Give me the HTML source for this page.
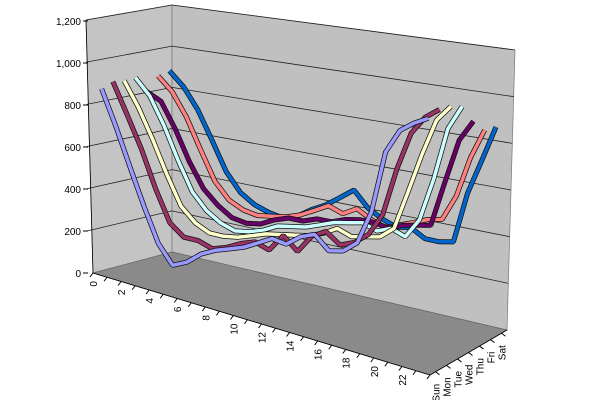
<!DOCTYPE html>
<html><head><meta charset="utf-8"><style>
html,body{margin:0;padding:0;background:#fff;width:600px;height:400px;overflow:hidden}
svg text{font-family:"Liberation Sans",Arial,sans-serif;font-size:10px;fill:#000}
</style></head><body>
<svg id="s" width="600" height="400" xmlns="http://www.w3.org/2000/svg">
<polygon points="86,20 172,5 172,252 93,273" fill="#c4c4c4" stroke="#777" stroke-width="0.7"/>
<polygon points="172,5 515,50 507,330 172,252" fill="#c0c0c0" stroke="#777" stroke-width="0.7"/>
<polygon points="93,273 172,252 507,330 430,375" fill="#8a8a8a" stroke="#666" stroke-width="0.7"/>
<g id="g"></g>
</svg>
<script>
var g=document.getElementById('g'),h='';
function L(x1,y1,x2,y2,c,w){h+='<line x1="'+x1+'" y1="'+y1+'" x2="'+x2+'" y2="'+y2+'" stroke="'+(c||'#000')+'" stroke-width="'+(w||1)+'"/>';}
for(var k=1;k<=6;k++){var f=k/6;
 var ly=273+(20-273)*f, by=252+(5-252)*f, ry=330+(50-330)*f;
 L(88+(-2*f),ly,172,by,'#222',0.8);L(172,by,507+8*f,ry,'#222',0.8);}
var labs=['0','200','400','600','800','1,000','1,200'];
for(var k=0;k<=6;k++){var y=273-k*42;L(83,y,88,y);h+='<text x="81" y="'+(y+4)+'" text-anchor="end">'+labs[k]+'</text>';}
L(86,20,93,273,'#000',0.8);L(93,273,430,375,'#000',0.8);L(430,375,507,330,'#000',0.8);
for(var i=0;i<=24;i++){var x=93+i*14.04,y=273+i*4.25;L(x,y,x-3,y+4);
 if(i%2==0&&i<24)h+='<text transform="translate('+(x+4)+','+(y+8)+') rotate(-90)" text-anchor="end">'+i+'</text>';}
var days=['Sun','Mon','Tue','Wed','Thu','Fri','Sat'];
for(var s=0;s<7;s++){var f=(s+0.5)/7,x=430+77*f,y=375-45*f;L(x,y,x+4,y+3);
 h+='<text transform="translate('+(x+4)+','+(y+12)+') rotate(-90)" text-anchor="end">'+days[s]+'</text>';}
var cols=['#9999ff','#993366','#ffffcc','#ccffff','#660066','#ff8080','#0066cc'];
var data=[
[870,700,520,350,200,120,150,200,230,250,270,300,330,320,360,380,330,340,380,500,720,800,830,850],
[890,740,590,420,280,230,230,210,230,260,280,260,330,280,350,380,340,360,400,480,650,780,840,870],
[880,760,620,470,340,280,250,250,260,280,300,310,320,330,350,380,360,370,380,420,560,700,820,870],
[880,800,670,520,390,320,280,260,270,290,320,330,340,360,380,390,400,380,400,380,450,600,780,860],
[800,760,640,500,390,330,290,280,290,320,340,340,360,360,380,390,390,380,400,410,420,580,730,800],
[860,790,680,540,410,340,310,300,310,320,340,370,400,380,410,380,360,380,400,420,430,520,660,760],
[870,800,700,570,440,360,320,300,290,310,350,380,420,460,400,370,350,360,330,330,340,520,640,760]];
for(var s=6;s>=0;s--){var f=(s+0.5)/7,bx=93+79*f,by=273-21*f,p=[];
 for(var i=0;i<24;i++){var x=bx+i*14.2+3,y=by+i*4.25,sc=0.21+0.0037*i;p.push(x.toFixed(1)+','+(y-data[s][i]*sc).toFixed(1));}
 var pts=p.join(' ');
 h+='<polyline points="'+pts+'" fill="none" stroke="#111" stroke-width="5" stroke-linejoin="bevel"/>';
 h+='<polyline points="'+pts+'" fill="none" stroke="'+cols[s]+'" stroke-width="3.5" stroke-linejoin="bevel"/>';}
g.innerHTML=h;
</script>
</body></html>
